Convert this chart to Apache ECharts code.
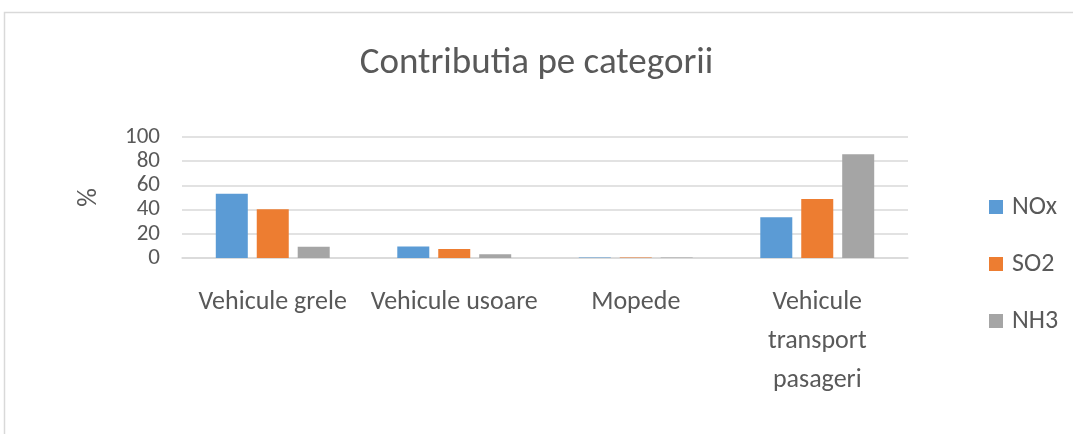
<!DOCTYPE html>
<html>
<head>
<meta charset="utf-8">
<script src="https://cdn.jsdelivr.net/npm/echarts@6/dist/echarts.min.js"></script>
<style>
    html, body { margin: 0; padding: 0; background: #fff; }
    #chart { width: 1073px; height: 434px; }
</style>
</head>
<body>
<div id="chart"></div>
<script>
var categories = ['Vehicule grele', 'Vehicule usoare', 'Mopede', 'Vehicule\ntransport\npasageri'];
var nox = [53.2, 9.5, 0.4, 33.6];
var so2 = [40.2, 7.4, 0.4, 48.8];
var nh3 = [9.4, 3.1, 0.4, 85.7];
var yTicks = [0, 20, 40, 60, 80, 100];

var font = "Carlito, 'Open Sans', sans-serif";
var txt = '#595959';

var chart = echarts.init(document.getElementById('chart'));

var option = {
    animation: false,
    color: ['#5b9bd5', '#ed7d31', '#a5a5a5'],
    textStyle: {fontFamily: font},
    title: {
        text: 'Contributia pe categorii',
        left: 'center',
        top: 40,
        textStyle: {fontFamily: font, fontSize: 37, fontWeight: 'normal', color: txt}
    },
    graphic: [{
        type: 'rect',
        shape: {x: 4.5, y: 12.5, width: 1200, height: 600},
        style: {fill: 'none', stroke: '#d9d9d9', lineWidth: 1.5},
        silent: true
    }],
    legend: {
        orient: 'vertical',
        left: 984,
        top: 189,
        itemWidth: 14,
        itemHeight: 14,
        itemGap: 31,
        icon: 'rect',
        textStyle: {fontFamily: font, fontSize: 26, color: txt, padding: [0, 0, 0, 4]},
        data: ['NOx', 'SO2', 'NH3']
    },
    grid: {left: 182, right: 165, top: 137, bottom: 176},
    xAxis: {
        type: 'category',
        data: categories,
        axisLine: {lineStyle: {color: '#d9d9d9', width: 1.5}},
        axisTick: {show: false},
        axisLabel: {
            interval: 0,
            margin: 25,
            fontFamily: font,
            fontSize: 26,
            color: txt,
            lineHeight: 39
        }
    },
    yAxis: {
        type: 'value',
        min: yTicks[0],
        max: yTicks[yTicks.length - 1],
        interval: 20,
        name: '%',
        nameLocation: 'middle',
        nameGap: 80,
        nameRotate: 90,
        nameTextStyle: {fontFamily: font, fontSize: 26, color: txt},
        axisLine: {show: false},
        axisTick: {show: false},
        axisLabel: {
            margin: 22,
            fontFamily: font,
            fontSize: 23,
            color: txt
        },
        splitLine: {lineStyle: {color: '#d9d9d9', width: 1.5}}
    },
    series: [
        {name: 'NOx', type: 'bar', data: nox, barWidth: 32, barGap: '28%'},
        {name: 'SO2', type: 'bar', data: so2, barWidth: 32, barGap: '28%'},
        {name: 'NH3', type: 'bar', data: nh3, barWidth: 32, barGap: '28%'}
    ]
};

chart.setOption(option);
</script>
</body>
</html>
